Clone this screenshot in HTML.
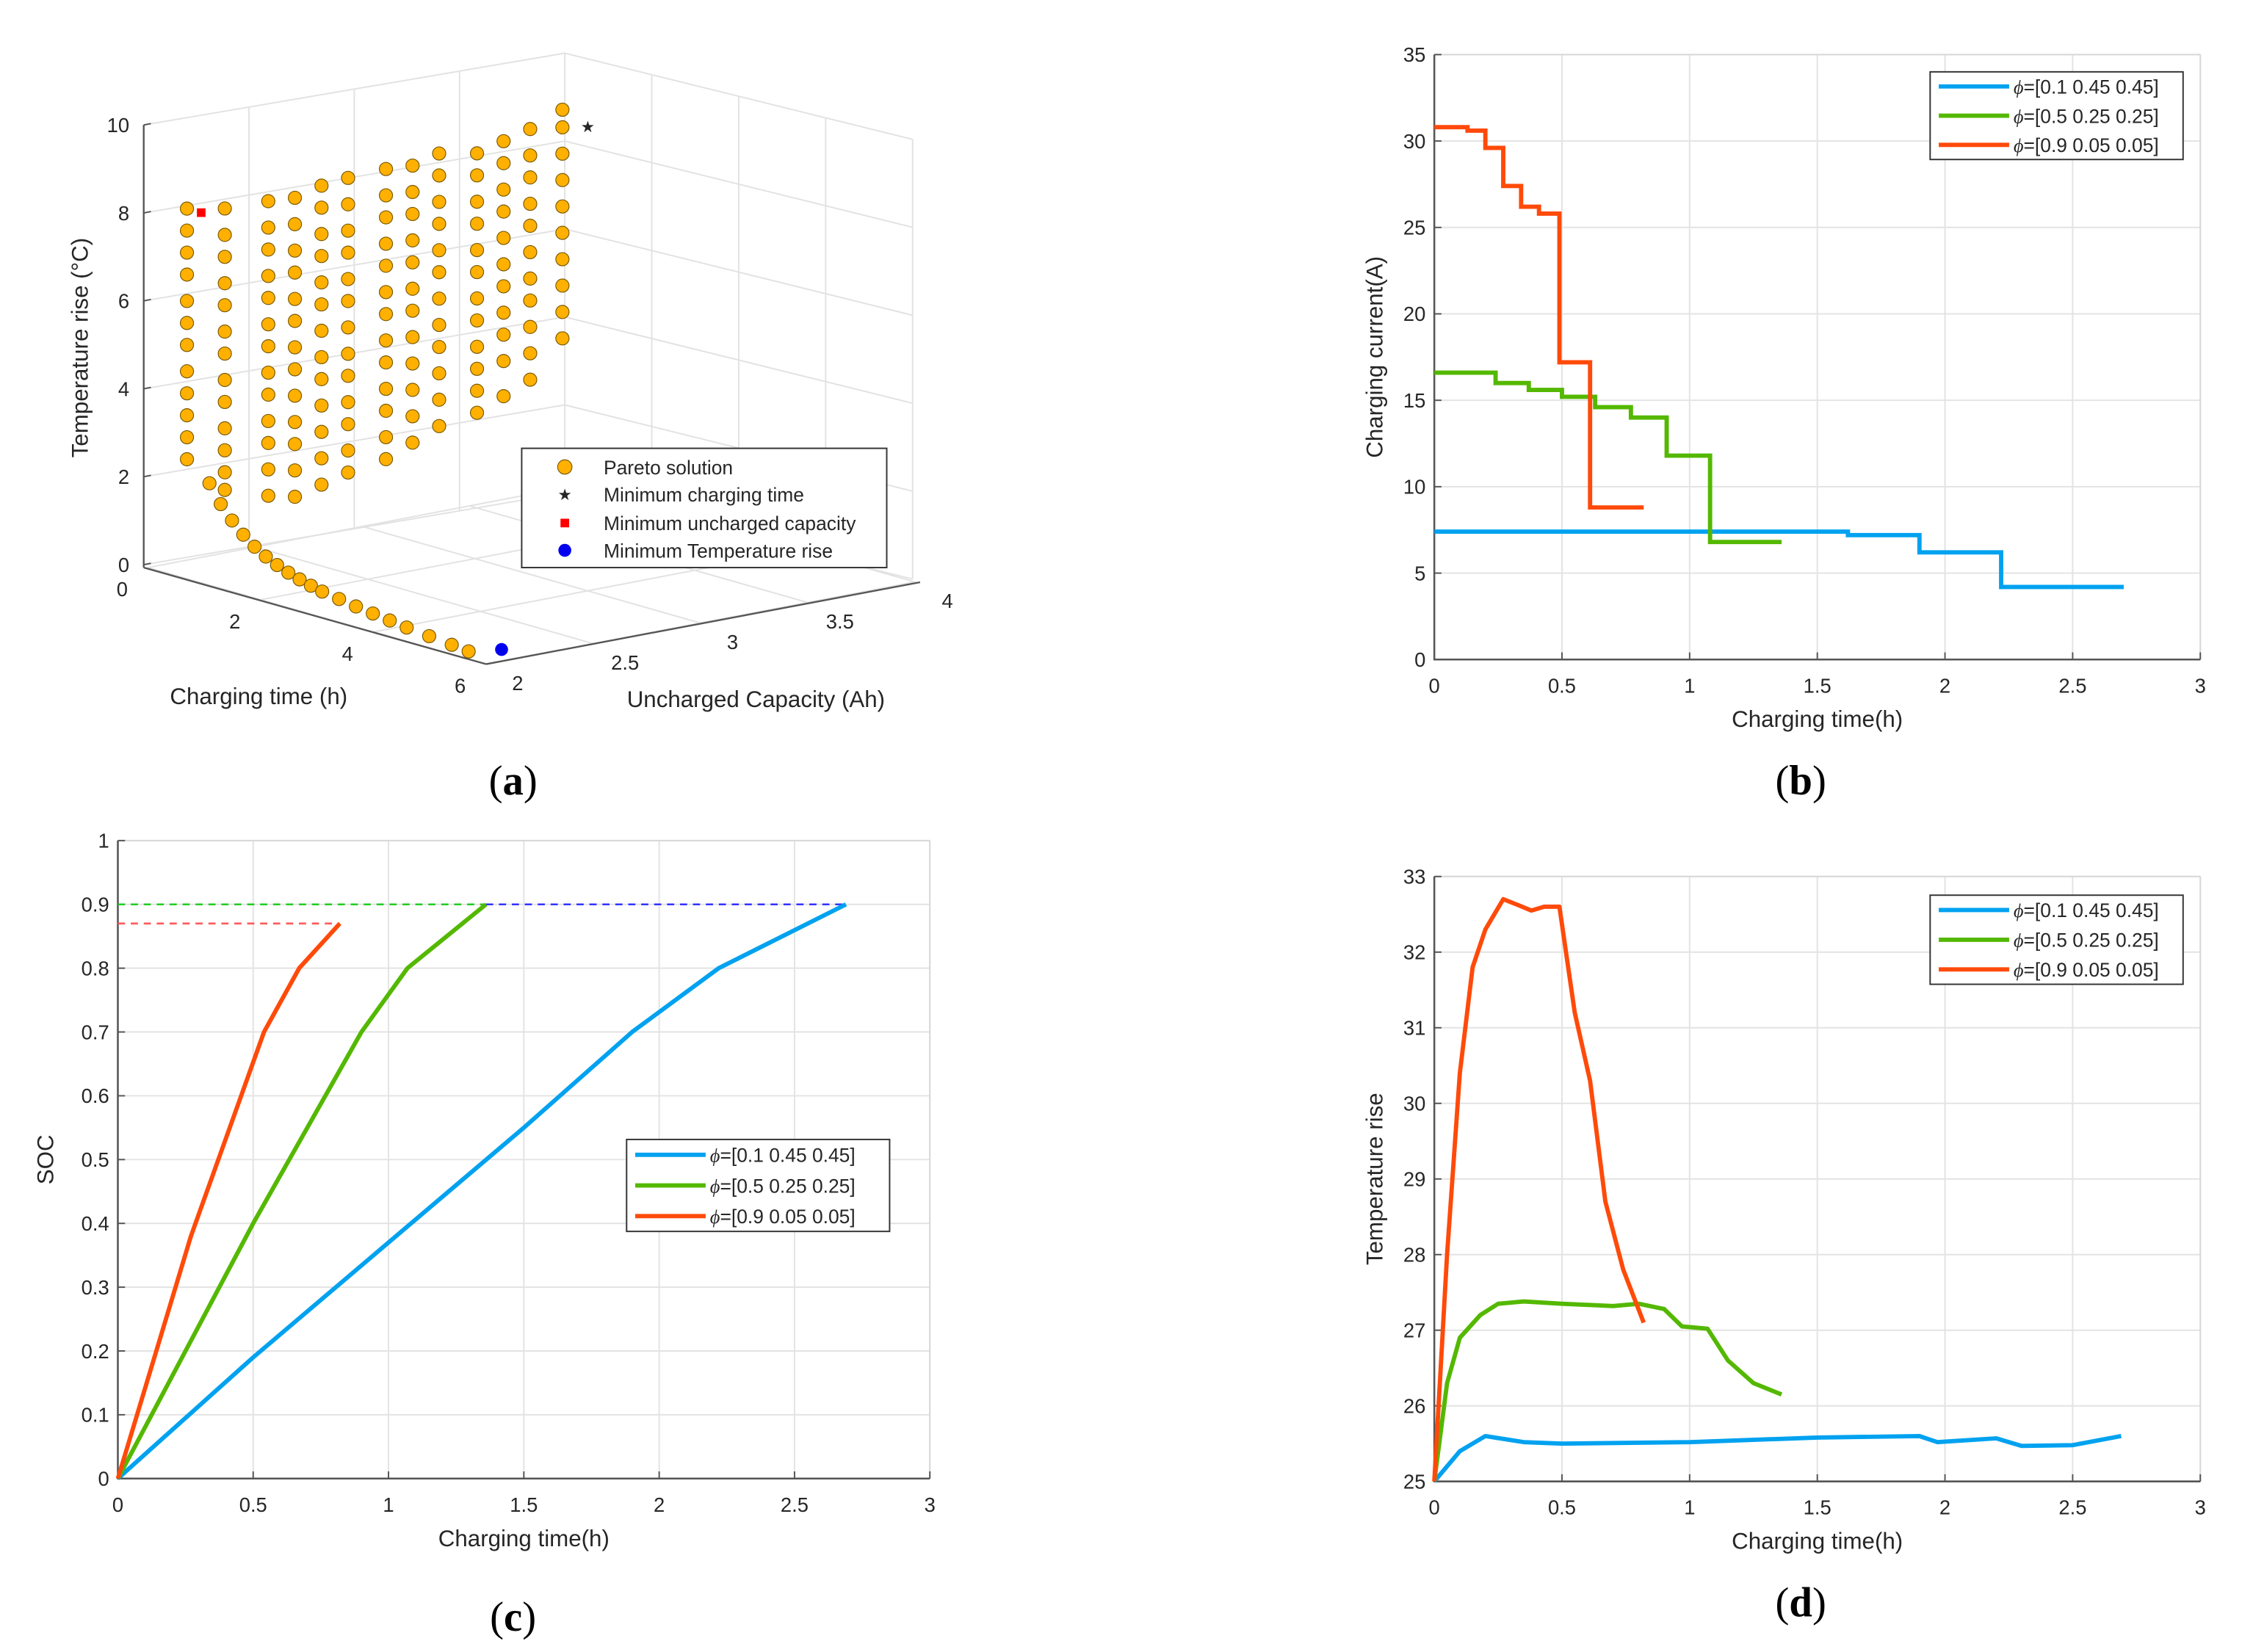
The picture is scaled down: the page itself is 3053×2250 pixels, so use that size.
<!DOCTYPE html>
<html><head><meta charset="utf-8"><style>
html,body{margin:0;padding:0;background:#fff;}
svg{display:block;}
text{font-family:"Liberation Sans",sans-serif;fill:#262626;}
.tk{font-size:14px;}
.lg{font-size:13.5px;}
.pl{font-family:"Liberation Serif",serif;font-size:29px;fill:#000;}
</style></head><body>
<svg id="fig" width="3053" height="2250" viewBox="0 0 1560 1149.7" preserveAspectRatio="none" xmlns="http://www.w3.org/2000/svg">
<rect width="1560" height="1150" fill="#fff"/>
<g id="pa"></g>
<g id="pb"></g>
<g id="pc"></g>
<g id="pd"></g>
<text class="pl" x="357" y="553" text-anchor="middle">(<tspan font-weight="bold">a</tspan>)</text>
<text class="pl" x="1253" y="553" text-anchor="middle">(<tspan font-weight="bold">b</tspan>)</text>
<text class="pl" x="357" y="1135" text-anchor="middle">(<tspan font-weight="bold">c</tspan>)</text>
<text class="pl" x="1253" y="1125" text-anchor="middle">(<tspan font-weight="bold">d</tspan>)</text>
</svg>
<script>
// ---------- DATA ----------
const colors=["#00a2f0","#54b800","#ff4a0a"];
const legendLabels=["=[0.1 0.45 0.45]","=[0.5 0.25 0.25]","=[0.9 0.05 0.05]"];
const xTicks=[0,0.5,1,1.5,2,2.5,3];
// (b) step data: level holds until break time
const bBlueBreaks=[0,1.62,1.9,2.22,2.7];
const bBlueLevels=[7.4,7.2,6.2,4.2];
const bGreenBreaks=[0,0.24,0.37,0.5,0.63,0.77,0.91,1.08,1.36];
const bGreenLevels=[16.6,16.0,15.6,15.2,14.6,14.0,11.8,6.8];
const bRedBreaks=[0,0.13,0.2,0.27,0.34,0.41,0.49,0.61,0.82];
const bRedLevels=[30.8,30.6,29.6,27.4,26.2,25.8,17.2,8.8];
const bYTicks=[0,5,10,15,20,25,30,35];
// (c) SOC
const cBlueT=[0,0.5,1,1.5,1.9,2.22,2.69];
const cBlueV=[0,0.19,0.37,0.55,0.70,0.80,0.90];
const cGreenT=[0,0.5,0.9,1.07,1.36];
const cGreenV=[0,0.40,0.70,0.80,0.90];
const cRedT=[0,0.27,0.54,0.67,0.82];
const cRedV=[0,0.38,0.70,0.80,0.87];
const cYTicks=[0,0.1,0.2,0.3,0.4,0.5,0.6,0.7,0.8,0.9,1];
// (d) temperature
const dRedT=[0,0.05,0.1,0.15,0.2,0.27,0.33,0.38,0.43,0.49,0.55,0.61,0.67,0.74,0.82];
const dRedV=[25,28,30.4,31.8,32.3,32.7,32.62,32.55,32.6,32.6,31.2,30.3,28.7,27.8,27.1];
const dGreenT=[0,0.05,0.1,0.18,0.25,0.35,0.5,0.7,0.8,0.9,0.97,1.07,1.15,1.25,1.36];
const dGreenV=[25,26.3,26.9,27.2,27.35,27.38,27.35,27.32,27.35,27.28,27.05,27.02,26.6,26.3,26.15];
const dBlueT=[0,0.1,0.2,0.35,0.5,1.0,1.5,1.9,1.97,2.2,2.3,2.5,2.69];
const dBlueV=[25,25.4,25.6,25.52,25.5,25.52,25.58,25.6,25.52,25.57,25.47,25.48,25.6];
const dYTicks=[25,26,27,28,29,30,31,32,33];
// (a) pareto columns
const paretoCap=[2.05,2.2,2.35,2.5,2.65,2.8,2.95,3.1,3.25,3.4,3.55,3.7,3.85];
const paretoTime=[0.5,0.6,0.8,0.7,0.6,0.5,0.6,0.5,0.4,0.5,0.4,0.3,0.3];
const paretoTemps=[
[8.3,7.8,7.3,6.8,6.2,5.7,5.2,4.6,4.1,3.6,3.1,2.6],
[8.2,7.6,7.1,6.5,6.0,5.4,4.9,4.3,3.8,3.2,2.7,2.2,1.8],
[8.3,7.7,7.2,6.6,6.1,5.5,5.0,4.4,3.9,3.3,2.8,2.2,1.6],
[8.2,7.6,7.0,6.5,5.9,5.4,4.8,4.3,3.7,3.1,2.6,2.0,1.4],
[8.3,7.8,7.2,6.7,6.1,5.6,5.0,4.4,3.9,3.3,2.7,2.1,1.5],
[8.3,7.7,7.1,6.6,6.0,5.5,4.9,4.3,3.8,3.2,2.7,2.1,1.6],
[8.4,7.8,7.3,6.7,6.2,5.6,5.1,4.5,4.0,3.4,2.9,2.3,1.8],
[8.3,7.7,7.2,6.6,6.1,5.5,5.0,4.4,3.8,3.2,2.6,2.0],
[8.4,7.9,7.3,6.8,6.2,5.7,5.1,4.5,4.0,3.4,2.8,2.2],
[8.3,7.8,7.2,6.7,6.1,5.6,5.0,4.5,3.9,3.4,2.9,2.4],
[8.4,7.9,7.3,6.8,6.2,5.6,5.1,4.5,4.0,3.4,2.6],
[8.5,7.9,7.4,6.8,6.3,5.7,5.1,4.6,4.0,3.4,2.8],
[8.8,8.4,7.8,7.2,6.6,6.0,5.4,4.8,4.2,3.6]];
const tailTime=[0.9,1.1,1.3,1.5,1.7,1.9,2.1,2.3,2.5,2.7,2.9,3.2,3.5,3.8,4.1,4.4,4.8,5.2,5.5];
const tailTemp=[2.2,1.8,1.5,1.25,1.05,0.9,0.78,0.68,0.6,0.53,0.47,0.41,0.35,0.3,0.25,0.2,0.15,0.1,0.06];
const tailCap=2.05;
const zTicks=[0,2,4,6,8,10];
const timeTicks3d=[0,2,4,6];
const capTicks3d=[2,2.5,3,3.5,4];

// ---------- HELPERS ----------
const NS="http://www.w3.org/2000/svg";
function mk(parent,tag,attrs,txt){const e=document.createElementNS(NS,tag);for(const k in attrs)e.setAttribute(k,attrs[k]);if(txt!==undefined)e.textContent=txt;parent.appendChild(e);return e;}

function chart2d(g,cfg){
  const X=v=>cfg.x0+(v-0)*(cfg.x1-cfg.x0)/3;
  const Y=v=>cfg.y0-(v-cfg.ymin)*(cfg.y0-cfg.y1)/(cfg.ymax-cfg.ymin);
  for(const t of xTicks){const l=mk(g,'line',{x1:X(t),x2:X(t),y1:cfg.y1,y2:cfg.y0,stroke:'#e3e3e3','stroke-width':1});
    
    }
  for(const t of cfg.yt){const l=mk(g,'line',{x1:cfg.x0,x2:cfg.x1,y1:Y(t),y2:Y(t),stroke:'#e3e3e3','stroke-width':1});
    
    }
  mk(g,'line',{x1:cfg.x0,x2:cfg.x1,y1:cfg.y1,y2:cfg.y1,stroke:'#d8d8d8'});
  mk(g,'line',{x1:cfg.x1,x2:cfg.x1,y1:cfg.y1,y2:cfg.y0,stroke:'#d8d8d8'});
  const ax=mk(g,'path',{d:`M${cfg.x0},${cfg.y1}V${cfg.y0}H${cfg.x1}`,fill:'none',stroke:'#555','stroke-width':1.3});
  
  
  for(const t of xTicks){mk(g,'line',{x1:X(t),x2:X(t),y1:cfg.y0,y2:cfg.y0-5,stroke:'#555'});
    const tx=mk(g,'text',{class:'tk',x:X(t),y:cfg.y0+23,'text-anchor':'middle'},String(t));
    
    }
  for(const t of cfg.yt){mk(g,'line',{x1:cfg.x0,x2:cfg.x0+5,y1:Y(t),y2:Y(t),stroke:'#555'});
    const tx=mk(g,'text',{class:'tk',x:cfg.x0-6,y:Y(t)+5,'text-anchor':'end'},String(t));
    
    }
  const xl=mk(g,'text',{x:(cfg.x0+cfg.x1)/2,y:cfg.y0+47,'text-anchor':'middle','font-size':16},'Charging time(h)');
  
  
  const yl=mk(g,'text',{x:0,y:0,'text-anchor':'middle','font-size':16,transform:`translate(${cfg.ylx},${(cfg.y0+cfg.y1)/2}) rotate(-90)`},cfg.ylabel);
  
  
  return {X,Y};
}
function line(g,X,Y,ts,vs,color,name){
  const p=mk(g,'polyline',{points:ts.map((t,i)=>X(t)+','+Y(vs[i])).join(' '),fill:'none',stroke:color,'stroke-width':3,'stroke-linejoin':'round'});
  
  
}
function steps(g,X,Y,br,lv,color,name){
  let d='';for(let i=0;i<lv.length;i++){d+=(i?'L':'M')+X(br[i])+','+Y(lv[i])+'L'+X(br[i+1])+','+Y(lv[i]);}
  const p=mk(g,'path',{d,fill:'none',stroke:color,'stroke-width':3});
  
  
}
function legend(g,x,y,w,h){
  const b=mk(g,'rect',{x,y,width:w,height:h,fill:'#fff',stroke:'#333','stroke-width':1});
  
  
  const step=h/3;
  for(let i=0;i<3;i++){const yy=y+step*(i+0.5);
    mk(g,'line',{x1:x+6,x2:x+55,y1:yy,y2:yy,stroke:colors[i],'stroke-width':3});
    const t=mk(g,'text',{class:'lg',x:x+58,y:yy+5},'');
    
    
    mk(t,'tspan',{'font-family':'Liberation Serif,serif','font-style':'italic'},'\u03d5');
    mk(t,'tspan',{},legendLabels[i]);}
}

// ---------- PANEL B ----------
(function(){const g=document.getElementById('pb');
 const {X,Y}=chart2d(g,{x0:998,x1:1531,y0:459,y1:38,ymin:0,ymax:35,yt:bYTicks,ylx:962,ylabel:'Charging current(A)'});
 steps(g,X,Y,bBlueBreaks,bBlueLevels,colors[0],'series-blue');
 steps(g,X,Y,bGreenBreaks,bGreenLevels,colors[1],'series-green');
 steps(g,X,Y,bRedBreaks,bRedLevels,colors[2],'series-red');
 legend(g,1343,50,176,61);})();

// ---------- PANEL C ----------
(function(){const g=document.getElementById('pc');
 const {X,Y}=chart2d(g,{x0:82,x1:647,y0:1029,y1:585,ymin:0,ymax:1,yt:cYTicks,ylx:37,ylabel:'SOC'});
 const dash=(t0,t1,v,c,n)=>{const l=mk(g,'line',{x1:X(t0),x2:X(t1),y1:Y(v),y2:Y(v),stroke:c,'stroke-width':1.3,'stroke-dasharray':'5,4'});
   
   };
 dash(0,cRedT[cRedT.length-1],cRedV[cRedV.length-1],'#ff5a5a','red-dashed-reference');
 dash(0,cGreenT[cGreenT.length-1],cGreenV[cGreenV.length-1],'#22cc22','green-dashed-reference');
 dash(cGreenT[cGreenT.length-1],cBlueT[cBlueT.length-1],cBlueV[cBlueV.length-1],'#3333ff','blue-dashed-reference');
 line(g,X,Y,cBlueT,cBlueV,colors[0],'series-blue');
 line(g,X,Y,cGreenT,cGreenV,colors[1],'series-green');
 line(g,X,Y,cRedT,cRedV,colors[2],'series-red');
 legend(g,436,793,183,64);})();

// ---------- PANEL D ----------
(function(){const g=document.getElementById('pd');
 const {X,Y}=chart2d(g,{x0:998,x1:1531,y0:1031,y1:610,ymin:25,ymax:33,yt:dYTicks,ylx:962,ylabel:'Temperature rise'});
 line(g,X,Y,dBlueT,dBlueV,colors[0],'series-blue');
 line(g,X,Y,dGreenT,dGreenV,colors[1],'series-green');
 line(g,X,Y,dRedT,dRedV,colors[2],'series-red');
 legend(g,1343,623,176,62);})();

// ---------- PANEL A ----------
(function(){const g=document.getElementById('pa');
 const P=(t,c,T)=>[103+39.2*t+149.5*(c-2),395+11.2*t-28.5*(c-2)-30.6*T];
 const gc='#e2e2e2';
 for(const z of zTicks){const yy=393-30.6*z;
   mk(g,'line',{x1:100,y1:yy,x2:393,y2:yy-50,stroke:gc});
   mk(g,'line',{x1:393,y1:yy-50,x2:635,y2:yy+10,stroke:gc});}
 for(let i=0;i<=4;i++){const fx=100+i*73.25, fy=-12.5*i;
   mk(g,'line',{x1:fx,y1:87+fy,x2:fx,y2:393+fy,stroke:gc});}
 for(let i=1;i<=4;i++){const fx=393+i*60.5, fy=15*i;
   mk(g,'line',{x1:fx,y1:37+fy,x2:fx,y2:343+fy,stroke:gc});}
 for(const c of capTicks3d){const a=P(0,c,0),b=P(6,c,0);
   mk(g,'line',{x1:a[0],y1:a[1],x2:b[0],y2:b[1],stroke:gc});}
 for(let i=0;i<=3;i++){const a=P(i*2,2,0);mk(g,'line',{x1:a[0],y1:a[1],x2:a[0]+297,y2:a[1]-57,stroke:gc});}
 mk(g,'line',{x1:100,y1:87,x2:100,y2:395,stroke:'#555','stroke-width':1.2});
 const t0=P(0,2,0),t6=P(6,2,0),c4=P(6,4,0);
 mk(g,'line',{x1:t0[0]-3,y1:t0[1],x2:t6[0],y2:t6[1],stroke:'#555','stroke-width':1.2});
 mk(g,'line',{x1:t6[0],y1:t6[1],x2:c4[0]+3,y2:c4[1],stroke:'#555','stroke-width':1.2});
 for(const z of zTicks){const yy=393-30.6*z;mk(g,'line',{x1:100,x2:105,y1:yy,y2:yy-1,stroke:'#555'});
   const t=mk(g,'text',{class:'tk',x:90,y:yy+5,'text-anchor':'end'},String(z));
   
   }
 for(const tt of timeTicks3d){const p=P(tt,2,0);
   const t=mk(g,'text',{class:'tk',x:p[0]-18,y:p[1]+20,'text-anchor':'middle'},String(tt));
   
   }
 for(const cc of capTicks3d){const p=P(6,cc,0);
   const t=mk(g,'text',{class:'tk',x:p[0]+22,y:p[1]+18,'text-anchor':'middle'},String(cc));
   
   }
 let t=mk(g,'text',{x:180,y:490,'text-anchor':'middle','font-size':16},'Charging time (h)');
 
 
 t=mk(g,'text',{x:526,y:492,'text-anchor':'middle','font-size':16},'Uncharged Capacity (Ah)');
 
 
 t=mk(g,'text',{x:0,y:0,'text-anchor':'middle','font-size':16,transform:'translate(61,242) rotate(-90)'},'Temperature rise (\u00b0C)');
 
 
 const dot=(p)=>{const c=mk(g,'circle',{cx:p[0],cy:p[1],r:4.6,fill:'#ffb000',stroke:'#7a5a00','stroke-width':0.6});
   
   };
 paretoCap.forEach((c,i)=>paretoTemps[i].forEach(T=>dot(P(paretoTime[i],c,T))));
 tailTime.forEach((tt,i)=>dot(P(tt,tailCap,tailTemp[i])));
 let m=mk(g,'rect',{x:137,y:145,width:6,height:6,fill:'#ff0000'});
 
 
 m=mk(g,'circle',{cx:349,cy:452,r:4.5,fill:'#0000ee'});
 
 
 m=mk(g,'text',{x:409,y:92,'text-anchor':'middle','font-size':11,fill:'#3a3'},'\u2605');
 
 
 const lb=mk(g,'rect',{x:363,y:312,width:254,height:83,fill:'#fff',stroke:'#333'});
 
 
 const labs=['Pareto solution','Minimum charging time','Minimum uncharged capacity','Minimum Temperature rise'];
 const ys=[325,344,364,383];
 mk(g,'circle',{cx:393,cy:ys[0],r:5,fill:'#ffb000',stroke:'#7a5a00','stroke-width':0.6});
 mk(g,'text',{x:393,y:ys[1]+4,'text-anchor':'middle','font-size':11,fill:'#3a3'},'\u2605');
 mk(g,'rect',{x:390,y:ys[2]-3,width:6,height:6,fill:'#ff0000'});
 mk(g,'circle',{cx:393,cy:ys[3],r:4.5,fill:'#0000ee'});
 labs.forEach((s,i)=>{const e=mk(g,'text',{class:'lg',x:420,y:ys[i]+5},s);
   
   });
})();
</script>
</body></html>
